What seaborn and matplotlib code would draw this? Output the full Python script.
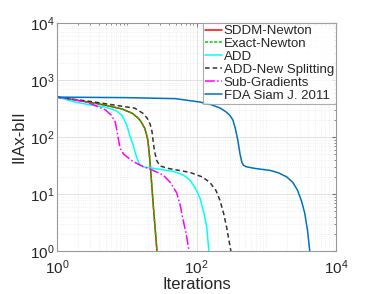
import matplotlib
matplotlib.use("Agg")
import matplotlib.pyplot as plt
import matplotlib.ticker as mticker
import seaborn as sns
import numpy as np

sns.set_style("white")
plt.rcParams['font.family'] = ['Liberation Sans', 'DejaVu Sans']
plt.rcParams['mathtext.fontset'] = 'custom'
plt.rcParams['mathtext.rm'] = 'Liberation Sans'

# values (iterations, residual)
newton_x = [1, 2.8, 5, 8.5, 12, 14.5, 16, 18, 19, 20, 21, 22, 24, 27]
newton_y = [500, 410, 360, 310, 260, 215, 185, 143, 115, 88, 50, 25, 6, 1]

add_x = [1, 1.8, 3, 4.9, 7, 8.5, 10, 11, 12.3, 13.5, 15, 17, 25, 46, 65, 80, 95, 112, 128, 140, 150]
add_y = [500, 410, 365, 335, 290, 240, 160, 108, 72, 48, 34, 30, 28, 25, 21.5, 17.6, 13, 8.5, 4.5, 2.6, 1]

split_x = [1, 3, 8, 13, 17, 19.5, 21.5, 23, 24, 25, 27, 30, 40, 80, 120, 155, 190, 216, 245, 270, 310]
split_y = [500, 420, 350, 320, 260, 215, 170, 122, 78, 55, 38, 31, 28, 24, 20, 16, 11.5, 7.8, 4.5, 2.6, 1]

subgrad_x = [1, 1.4, 2.8, 4.9, 6, 6.8, 7.2, 7.5, 8, 9, 10, 12, 15.5, 23.7, 33, 42, 52, 58, 63, 72, 78]
subgrad_y = [500, 480, 400, 300, 240, 184, 130, 96, 64, 50, 45, 38, 32, 26, 21.6, 16, 10.4, 6.5, 3.9, 1.8, 1]

fda_x = [1, 10, 50, 112, 160, 216, 260, 300, 332, 360, 390, 420, 446, 470, 520, 700,
         1130, 1500, 1960, 2400, 2800, 3200, 3560, 3900, 4200]
fda_y = [500, 490, 470, 410, 370, 323, 280, 240, 198, 140, 88, 50, 36, 32, 30, 28,
         26, 23.5, 20, 16, 11.7, 7.5, 4.6, 2.3, 1]

fig = plt.figure(figsize=(3.81, 2.94), dpi=100)
ax = fig.add_axes([0.150, 0.146, 0.732, 0.776])

lw = 1.1
sns.lineplot(x=newton_x, y=newton_y, ax=ax, color="red", lw=lw, label="SDDM-Newton")
sns.lineplot(x=newton_x, y=newton_y, ax=ax, color="#00cc00", lw=lw, linestyle=(0, (2, 1)), label="Exact-Newton")
sns.lineplot(x=add_x, y=add_y, ax=ax, color="cyan", lw=lw, label="ADD")
sns.lineplot(x=split_x, y=split_y, ax=ax, color="#333333", lw=lw, linestyle=(0, (3, 2)), label="ADD-New Splitting")
sns.lineplot(x=subgrad_x, y=subgrad_y, ax=ax, color="magenta", lw=lw, linestyle="-.", label="Sub-Gradients")
sns.lineplot(x=fda_x, y=fda_y, ax=ax, color="#0072BD", lw=lw, label="FDA Siam J. 2011")

ax.set_xscale("log")
ax.set_yscale("log")
ax.set_xlim(1, 1e4)
ax.set_ylim(1, 1e4)
ax.set_xticks([1, 1e2, 1e4])
ax.xaxis.set_minor_locator(mticker.LogLocator(base=10, subs=np.arange(1, 10), numticks=20))
ax.yaxis.set_minor_locator(mticker.LogLocator(base=10, subs=np.arange(2, 10), numticks=20))
ax.xaxis.set_minor_formatter(mticker.NullFormatter())
ax.yaxis.set_minor_formatter(mticker.NullFormatter())

ax.grid(True, which="major", color="#dddddd", lw=0.6)
ax.grid(True, which="minor", color="#e6e6e6", lw=0.5, linestyle=":")
ax.tick_params(which="both", direction="in", top=True, right=True, color="#777777",
               labelsize=11, pad=2)
ax.tick_params(axis="x", which="major", pad=5)
ax.tick_params(which="major", length=3)
ax.tick_params(which="minor", length=1.5)
for s in ax.spines.values():
    s.set_color("#999999")
    s.set_linewidth(0.8)

ax.set_xlabel("Iterations", fontsize=12, labelpad=0)
ax.set_ylabel("IIAx-bII", fontsize=12, labelpad=2)

leg = ax.legend(loc="upper right", fontsize=9.5, frameon=True, fancybox=False,
                borderpad=0.15, labelspacing=0.05, handlelength=1.3, handletextpad=0.1,
                borderaxespad=0)
leg.get_frame().set_edgecolor("#999999")
leg.get_frame().set_linewidth(0.8)

fig.savefig("out.png", dpi=100)
